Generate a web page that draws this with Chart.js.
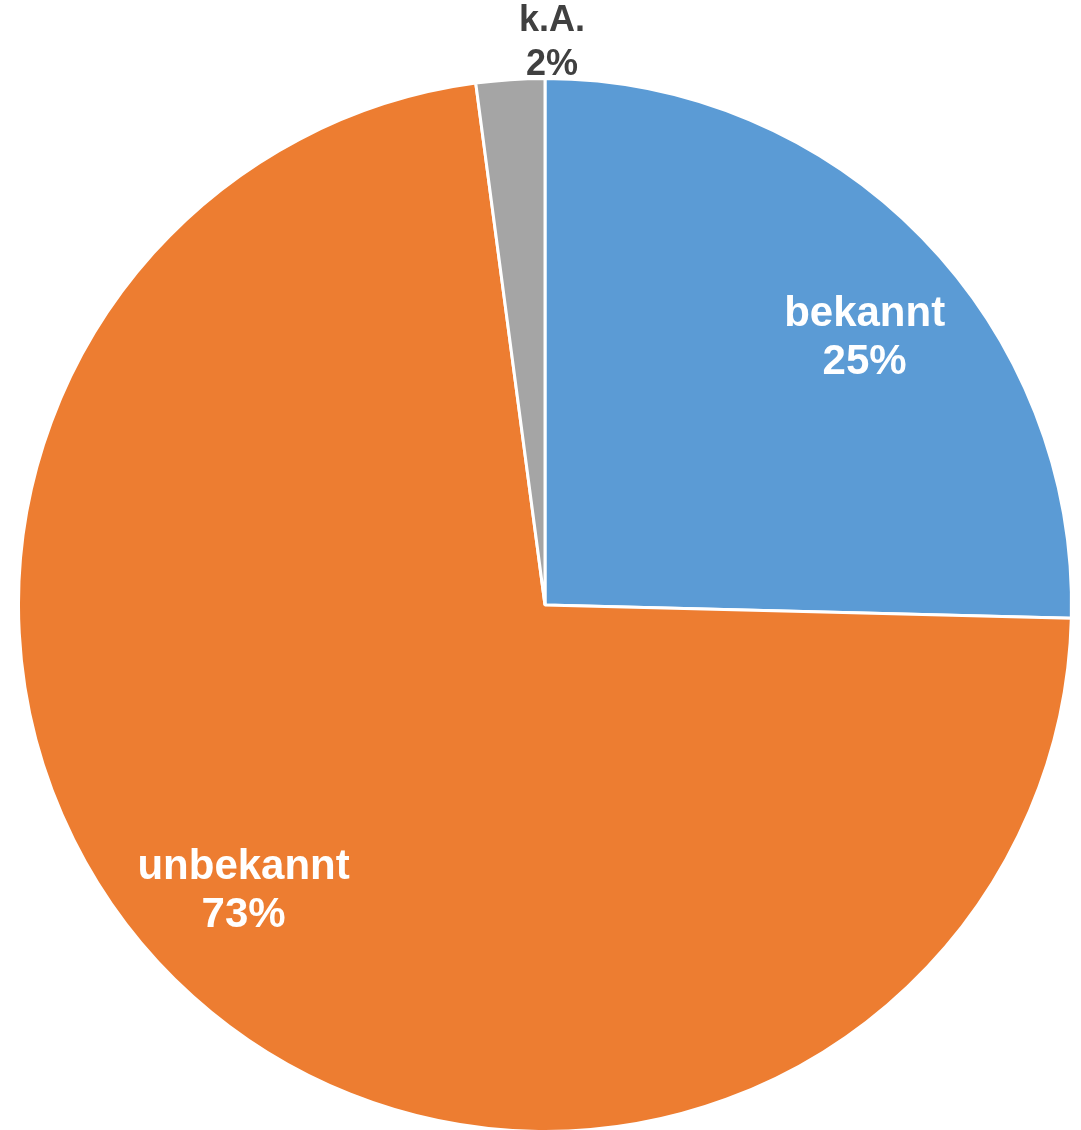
<!DOCTYPE html>
<html>
<head>
<meta charset="utf-8">
<script src="https://cdn.jsdelivr.net/npm/chart.js@4/dist/chart.umd.min.js"></script>
<style>
  html, body { margin: 0; padding: 0; background: #fff; overflow: hidden; }
  #wrap { width: 1081px; height: 1133px; position: relative; }
</style>
</head>
<body>
<div id="wrap"><canvas id="chart"></canvas></div>
<script>
// data
const categories = ['bekannt', 'unbekannt', 'k.A.'];
const shares = [25.4, 72.5, 2.1];
const colors = ['#5B9BD5', '#ED7D31', '#A5A5A5'];

// draws "name / xx%" labels, inside the slice or just outside it
const sliceLabels = {
  id: 'sliceLabels',
  afterDatasetsDraw(chart, args, opts) {
    const ctx = chart.ctx;
    const meta = chart.getDatasetMeta(0);
    const total = shares.reduce((a, b) => a + b, 0);
    meta.data.forEach((arc, i) => {
      const p = arc.getProps(['x', 'y', 'startAngle', 'endAngle', 'outerRadius']);
      const pct = shares[i] / total * 100;
      const outside = pct < 5;
      const mid = (p.startAngle + p.endAngle) / 2 + opts.shift * Math.PI / 180;
      const r = outside ? p.outerRadius + 35 : p.outerRadius * 0.79;
      const x = p.x + Math.cos(mid) * r;
      const y = p.y + Math.sin(mid) * r;
      const size = outside ? 36 : 42;
      const gap = outside ? 22 : 24;
      ctx.save();
      ctx.font = 'bold ' + size + 'px "Liberation Sans", Arial, sans-serif';
      ctx.fillStyle = outside ? '#404040' : '#ffffff';
      ctx.textAlign = 'center';
      ctx.textBaseline = 'middle';
      ctx.fillText(categories[i], x, y - gap);
      ctx.fillText(Math.round(pct) + '%', x, y + gap);
      ctx.restore();
    });
  }
};

new Chart(document.getElementById('chart'), {
  type: 'pie',
  data: {
    labels: categories,
    datasets: [{
      data: shares,
      backgroundColor: colors,
      borderColor: '#ffffff',
      borderWidth: 3
    }]
  },
  options: {
    responsive: true,
    maintainAspectRatio: false,
    animation: false,
    layout: {
      padding: { left: 17, right: 8, top: 77, bottom: 0 }
    },
    plugins: {
      legend: { display: false },
      tooltip: { enabled: false },
      sliceLabels: { shift: 4.5 }
    }
  },
  plugins: [sliceLabels]
});
</script>
</body>
</html>
